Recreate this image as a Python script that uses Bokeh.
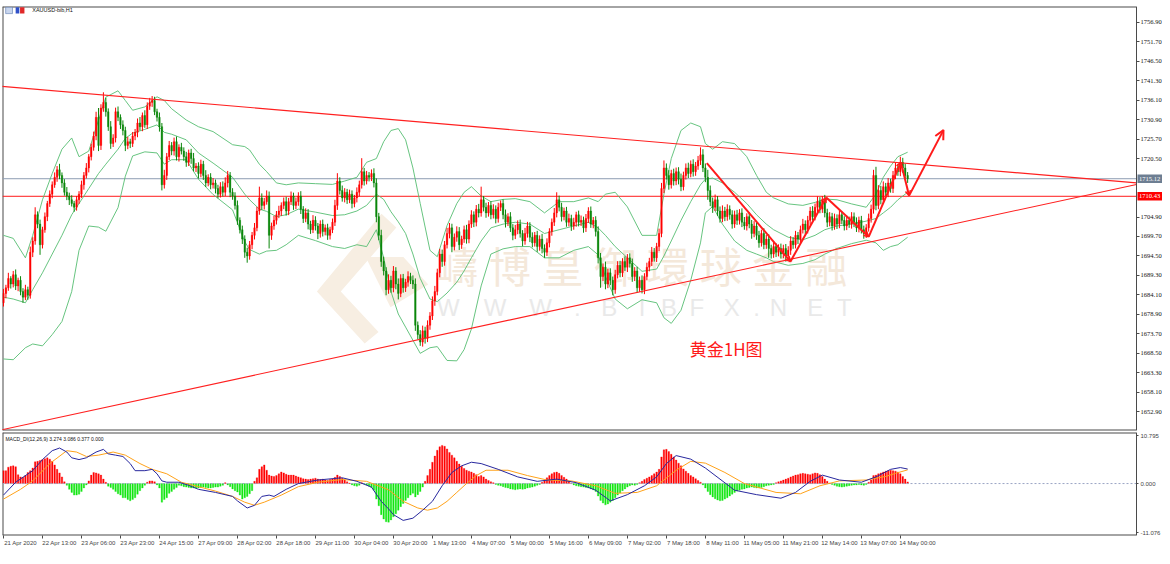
from bokeh.plotting import figure
from bokeh.models import (Range1d, FixedTicker, NumeralTickFormatter, LinearAxis,
                          Arrow, OpenHead, ColumnDataSource)
from bokeh.layouts import column
from bokeh.embed import file_html
from bokeh.resources import INLINE
from bokeh.core.properties import value

# ---------------- data (XAUUSD H1) ----------------
first_open = 1682.0
close = [
 1684.5,1686.0,1688.5,1687.0,1689.5,1686.5,1688.0,1685.0,1683.5,1685.5,
 1684.0,1695.5,1698.5,1705.5,1703.0,1697.5,1701.5,1705.0,1708.5,1711.0,
 1713.5,1715.5,1717.5,1716.0,1714.0,1711.5,1710.5,1709.5,1708.5,1707.5,
 1709.5,1711.0,1713.5,1716.0,1718.0,1721.0,1723.5,1726.5,1731.5,1724.0,
 1734.0,1735.5,1733.0,1729.0,1724.5,1726.0,1733.0,1731.5,1729.5,1728.0,
 1724.0,1725.0,1724.5,1726.5,1727.5,1730.0,1729.0,1732.0,1729.5,1734.5,
 1735.5,1736.0,1733.0,1731.5,1729.0,1713.5,1716.0,1721.0,1724.0,1722.5,
 1725.0,1721.0,1723.5,1722.5,1721.0,1719.5,1722.0,1720.5,1718.0,1718.5,
 1716.5,1719.0,1716.0,1714.0,1715.5,1713.5,1714.0,1712.5,1711.0,1713.0,
 1711.5,1714.0,1716.0,1711.5,1710.5,1708.0,1704.0,1701.5,1699.0,1695.5,
 1694.5,1697.5,1700.0,1702.0,1706.5,1710.0,1708.0,1709.0,1710.5,1700.0,
 1702.5,1704.0,1705.5,1706.5,1708.0,1709.0,1706.5,1709.0,1710.5,1708.0,
 1709.0,1710.5,1707.0,1704.5,1706.0,1703.0,1701.5,1704.0,1702.5,1700.5,
 1703.0,1701.0,1702.0,1700.0,1701.5,1703.5,1708.0,1714.5,1712.0,1710.0,
 1711.5,1709.5,1711.0,1708.5,1710.0,1711.5,1713.5,1717.0,1714.5,1716.0,
 1715.5,1716.5,1714.0,1705.0,1700.0,1693.0,1690.5,1685.5,1688.0,1686.0,
 1690.5,1687.0,1684.5,1688.5,1686.0,1687.5,1689.0,1688.0,1687.0,1676.0,
 1673.5,1671.5,1674.5,1672.5,1676.0,1678.5,1682.5,1685.0,1690.0,1695.0,
 1693.0,1697.5,1700.5,1702.0,1697.0,1699.5,1701.0,1697.5,1699.0,1701.5,
 1699.0,1703.0,1705.5,1703.5,1707.0,1706.0,1709.5,1707.5,1706.0,1708.0,
 1705.5,1707.0,1704.5,1707.5,1708.5,1705.5,1703.5,1705.0,1702.0,1700.0,
 1701.5,1703.0,1700.5,1698.5,1700.5,1702.5,1699.5,1698.0,1700.0,1697.0,
 1699.0,1696.5,1695.5,1698.0,1701.0,1703.5,1706.0,1709.5,1707.5,1705.0,
 1706.5,1703.5,1704.5,1702.5,1703.5,1705.5,1703.5,1704.0,1702.0,1704.5,
 1706.5,1703.0,1704.0,1701.0,1694.0,1689.0,1691.5,1687.0,1690.0,1688.0,
 1685.5,1689.5,1692.0,1690.0,1693.0,1691.5,1694.0,1692.5,1689.0,1690.5,
 1686.0,1688.0,1685.5,1689.0,1691.5,1693.0,1695.5,1694.0,1697.0,1700.5,
 1712.5,1718.0,1716.0,1713.5,1716.5,1714.5,1717.0,1715.0,1713.0,1716.0,
 1718.0,1716.5,1719.0,1717.0,1718.5,1720.0,1721.5,1718.0,1715.5,1712.0,
 1709.0,1707.5,1709.5,1706.5,1704.5,1706.5,1705.0,1707.0,1705.5,1703.0,
 1705.5,1704.0,1706.0,1703.5,1702.5,1705.0,1703.0,1700.5,1702.5,1700.0,
 1698.0,1700.5,1697.5,1699.0,1696.5,1695.0,1697.0,1695.5,1696.5,1695.0,
 1696.5,1694.5,1696.0,1698.5,1697.5,1700.0,1699.0,1701.5,1703.0,1701.5,
 1704.0,1706.5,1705.0,1707.5,1709.0,1707.0,1709.5,1706.0,1703.5,1705.0,
 1702.5,1704.5,1703.0,1705.5,1704.0,1702.5,1704.0,1703.0,1705.0,1703.5,
 1702.0,1704.0,1701.5,1700.5,1702.0,1704.5,1707.0,1716.0,1708.0,1712.0,
 1709.5,1713.0,1711.5,1714.0,1712.5,1716.0,1718.0,1717.0,1719.5,1718.0,
 1716.0,1715.1]
wick_up = [
 1.2,0.8,1.5,0.6,1.0,1.4,0.7,1.1,0.9,1.3, 0.8,1.5,1.0,2.0,0.9,1.2,0.8,1.1,0.7,1.0,
 0.9,1.3,1.0,1.6,0.8,1.0,1.4,0.9,1.2,0.7, 1.0,0.8,1.1,0.9,1.3,0.7,1.0,1.2,1.5,2.5,
 1.0,2.7,1.2,0.9,1.5,1.0,1.1,1.4,0.8,1.2, 1.0,1.3,0.8,1.1,0.9,1.2,1.6,0.8,1.4,1.0,
 1.2,1.2,1.0,0.8,1.3,1.0,1.5,1.0,1.2,0.9, 1.1,1.4,0.8,1.2,1.0,1.3,0.9,1.1,1.5,0.8,
 1.0,1.2,0.9,1.4,0.8,1.1,1.3,0.9,1.0,1.2, 1.4,1.5,1.2,0.9,1.1,1.0,1.3,0.8,1.1,1.0,
 1.2,1.0,0.9,1.3,1.1,3.0,1.2,1.0,1.5,1.2, 0.9,1.2,1.0,1.4,0.8,1.1,1.3,1.0,1.2,0.9,
 1.1,1.0,1.3,0.8,1.2,1.0,0.9,1.4,1.1,0.8, 1.0,1.2,0.9,1.1,0.8,1.0,1.5,2.1,1.0,1.3,
 1.1,0.9,1.2,1.0,0.8,1.3,1.1,3.6,1.0,1.2, 0.9,1.1,1.4,1.2,1.0,1.5,1.3,1.0,1.6,1.2,
 1.3,1.0,1.5,1.1,1.2,0.9,1.4,1.0,1.3,1.5, 1.0,1.2,1.4,1.1,1.3,1.0,1.2,1.5,1.1,1.4,
 1.2,1.0,1.5,1.3,1.1,1.0,1.4,1.2,0.9,1.1, 1.3,1.0,1.2,0.9,1.1,1.4,3.5,1.0,1.2,0.9,
 1.1,1.3,1.0,1.2,0.8,1.1,1.4,0.9,1.2,1.0, 1.3,1.0,1.2,0.9,1.5,1.1,1.0,1.3,0.9,1.2,
 1.0,1.4,1.1,1.2,0.9,1.0,1.3,2.0,1.1,1.2, 0.9,1.1,1.3,1.0,1.2,0.8,1.1,1.3,1.0,1.2,
 1.0,1.2,0.9,1.1,1.4,1.3,1.0,1.5,1.1,1.2, 1.0,1.3,1.1,1.2,0.9,1.4,1.0,1.2,1.3,1.0,
 1.1,1.0,1.3,0.9,1.2,1.0,1.4,1.1,1.0,1.3, 1.5,2.0,1.2,1.4,1.0,1.3,1.1,1.2,1.5,1.0,
 1.2,1.4,1.0,1.3,1.1,1.2,2.0,1.5,1.2,2.0, 1.3,1.1,1.4,1.0,1.2,1.5,1.1,1.3,1.0,1.2,
 1.1,1.3,1.0,1.2,1.4,0.9,1.2,1.1,1.3,1.0, 1.2,1.0,1.4,1.1,1.3,1.0,1.2,0.9,1.1,1.3,
 1.0,1.2,1.1,1.3,1.0,1.2,0.9,1.1,1.4,1.0, 1.2,1.1,1.3,1.0,1.4,1.2,1.0,1.3,1.1,1.2,
 1.0,1.3,1.1,1.2,0.9,1.1,1.3,1.0,1.2,1.1, 1.3,1.0,1.2,1.1,1.0,1.3,1.2,1.5,2.3,1.4,
 1.2,1.4,1.0,1.3,1.1,1.2,1.4,1.0,1.5,1.2, 1.1,0.9]
wick_dn = [
 1.0,1.3,0.8,1.2,0.9,1.1,1.4,1.0,1.5,0.8, 1.2,0.9,1.3,1.0,1.1,2.7,1.0,0.8,1.2,0.9,
 1.1,0.8,1.2,1.0,1.3,0.9,1.1,1.4,0.8,1.2, 0.9,1.1,1.0,1.3,0.8,1.2,1.0,0.9,1.1,1.5,
 1.2,1.0,1.3,1.1,1.4,0.9,1.2,1.0,1.1,1.3, 1.5,1.0,1.2,0.9,1.1,1.3,1.0,1.2,0.8,1.1,
 1.0,1.2,0.9,1.1,1.3,1.5,1.0,1.2,0.9,1.1, 1.2,1.0,1.3,0.9,1.1,1.2,1.0,1.4,0.9,1.1,
 1.3,1.0,1.2,1.1,0.9,1.2,1.0,1.3,1.1,0.9, 1.1,1.0,1.2,1.3,1.0,1.1,1.2,1.0,1.3,1.5,
 1.8,1.0,1.2,1.1,0.9,1.0,1.2,1.1,0.8,3.5, 1.2,1.0,1.1,0.9,1.3,1.0,1.2,1.1,0.9,1.2,
 1.0,1.1,1.3,1.2,1.0,1.4,1.1,0.9,1.2,1.5, 1.1,1.3,1.0,1.2,1.1,0.9,1.0,1.2,1.1,1.0,
 1.2,1.1,0.9,1.3,1.0,1.2,1.1,1.0,1.2,0.9, 1.1,1.0,1.2,1.5,1.3,1.4,1.2,1.5,1.1,1.3,
 1.2,1.4,1.6,1.0,1.3,1.1,1.2,1.0,1.3,1.5, 1.3,1.0,1.2,1.4,1.0,1.2,1.1,1.3,1.0,1.2,
 1.4,1.1,1.0,1.3,1.5,1.0,1.2,1.4,1.1,1.0, 1.2,1.1,1.0,1.3,1.1,1.2,1.0,1.1,1.3,1.0,
 1.2,1.0,1.3,1.1,1.0,1.2,1.4,1.0,1.1,1.3, 1.0,1.2,1.1,1.4,1.0,1.1,1.3,1.2,1.0,1.4,
 1.1,1.3,1.5,1.0,1.2,1.1,1.0,1.2,1.1,1.3, 1.0,1.2,1.1,1.3,1.0,1.2,1.1,1.0,1.3,1.1,
 1.2,1.0,1.1,1.3,1.5,3.0,1.2,1.4,1.1,1.3, 1.5,1.1,1.0,1.2,1.1,1.0,1.3,1.1,1.4,1.2,
 1.3,1.1,1.0,1.2,1.0,1.1,1.2,1.0,1.1,1.2, 1.0,1.2,1.1,1.3,1.0,1.2,1.1,1.4,1.2,1.0,
 1.1,1.2,1.0,1.3,1.1,1.0,1.2,1.1,1.3,2.5, 1.2,1.5,1.0,1.3,1.1,1.0,1.2,1.1,1.3,1.2,
 1.0,1.2,1.1,1.3,1.0,1.2,1.1,1.4,1.0,1.2, 1.3,1.0,1.2,1.1,2.5,1.2,1.0,1.3,1.1,1.2,
 1.1,1.5,1.0,1.2,1.1,1.0,1.3,1.1,1.0,1.2, 1.0,1.2,1.1,1.0,1.3,1.1,1.0,1.2,1.3,1.1,
 1.2,1.0,1.3,1.1,1.0,1.2,1.1,1.0,1.2,1.3, 1.1,1.2,1.0,1.4,1.2,1.0,1.1,1.2,1.3,1.0,
 1.2,1.1,1.0,1.3,1.1,1.2,1.0,1.1,1.2,1.3, 1.0,1.1]

band_bar = [0,4,9,12,16,20,24,28,31,35, 39,42,47,50,53,58,63,66,69,75,
            80,86,94,99,101,105,108,112,116,121, 128,135,140,145,149,153,156,159,162,165,
            168,171,175,178,182,186,189,192,196,200, 205,210,216,222,228,234,240,244,247,251,
            256,262,268,271,274,278,282,286,288,291, 295,300,305,309,313,316,322,328,333,337,
            342,348,354,358,361,364,367,371]
band_upper = [1700.0,1699.2,1694.0,1700.0,1709.5,1716.5,1723.0,1726.0,1721.0,1722.5,
              1730.8,1736.9,1738.6,1736.0,1733.4,1734.3,1737.0,1736.0,1733.8,1730.8,
              1729.0,1727.7,1724.2,1723.7,1722.8,1719.0,1717.0,1714.0,1713.5,1714.0,
              1713.8,1713.6,1714.5,1715.5,1719.5,1720.5,1725.0,1728.0,1728.5,1725.5,
              1718.0,1708.5,1696.0,1694.3,1702.6,1708.5,1711.5,1713.0,1710.5,1709.0,
              1709.6,1709.8,1709.0,1706.0,1709.0,1709.0,1710.0,1709.0,1711.0,1711.5,
              1707.6,1700.0,1700.0,1711.0,1720.5,1728.0,1730.0,1729.0,1724.5,1723.0,
              1725.0,1724.5,1721.0,1716.0,1711.5,1710.0,1708.4,1708.0,1708.8,1709.7,
              1709.5,1708.4,1707.5,1711.0,1715.5,1718.5,1721.0,1722.2]
band_mid = [1683.5,1683.0,1682.0,1685.5,1690.0,1695.0,1700.0,1705.5,1708.5,1712.5,
            1716.5,1719.0,1723.0,1725.9,1727.3,1728.3,1729.5,1727.5,1727.0,1725.5,
            1722.0,1719.3,1715.5,1711.0,1709.5,1707.0,1706.4,1705.0,1705.5,1707.0,
            1706.2,1705.3,1705.5,1706.5,1708.0,1711.0,1709.6,1706.3,1703.6,1700.5,
            1695.0,1688.5,1683.0,1682.3,1684.6,1687.5,1690.5,1694.0,1698.5,1702.0,
            1703.0,1703.5,1703.0,1700.5,1701.5,1702.5,1703.5,1702.0,1700.0,1697.0,
            1694.0,1690.4,1691.0,1694.5,1698.5,1704.0,1709.0,1713.5,1715.0,1715.3,
            1714.0,1711.5,1708.5,1705.5,1703.0,1701.5,1699.5,1698.8,1700.0,1701.5,
            1702.5,1703.0,1703.8,1704.5,1706.0,1707.5,1709.5,1711.5]
band_lower = [1667.0,1666.8,1670.0,1671.0,1670.5,1673.5,1677.0,1685.0,1696.0,1702.5,
              1702.2,1701.1,1707.4,1715.8,1721.2,1722.3,1722.0,1719.0,1720.2,1720.2,
              1715.0,1710.9,1706.8,1698.3,1696.2,1695.0,1695.8,1696.0,1697.5,1700.0,
              1698.6,1697.0,1696.5,1697.5,1697.0,1701.5,1694.0,1685.0,1679.0,1675.5,
              1672.0,1668.5,1670.0,1670.3,1666.6,1666.5,1669.5,1675.0,1686.5,1695.0,
              1696.4,1697.0,1697.0,1694.0,1694.0,1696.0,1697.0,1694.8,1689.0,1683.0,
              1680.4,1682.8,1682.0,1678.0,1676.5,1680.0,1688.0,1698.0,1706.0,1707.7,
              1703.0,1698.5,1696.0,1695.0,1694.0,1693.0,1692.0,1692.5,1693.5,1695.0,
              1696.5,1697.8,1698.7,1698.0,1696.0,1697.0,1697.5,1699.5]

# MACD_DI(12,26,9): histogram per bar, MACD and signal lines sampled
macd_hist = [
 2.9,2.9,3.7,3.9,4.0,3.8,2.0,1.5,1.4,1.8, 2.5,2.9,3.5,4.9,5.0,5.2,5.4,5.6,5.8,5.5,
 5.0,4.2,3.2,2.4,1.5,0.4,-0.4,-1.3,-2.0,-2.6, -2.6,-2.4,-1.8,-1.0,-0.3,0.6,1.9,2.5,2.4,2.2,
 1.9,1.0,0.3,-0.6,-0.9,-1.3,-1.8,-2.3,-2.6,-3.2, -3.2,-3.6,-3.9,-3.6,-3.2,-2.4,-1.6,-1.0,-0.4,0.3,
 0.6,0.6,0.4,-0.3,-1.0,-4.2,-3.6,-3.2,-2.2,-1.8, -1.3,-0.9,-0.4,-0.5,-0.7,-0.8,-0.9,-1.0,-1.0,-1.0,
 -1.0,-0.9,-0.8,-0.9,-1.0,-1.0,-0.9,-0.8,-0.8,-0.6, -0.4,0.2,-0.3,-0.7,-1.2,-1.6,-1.9,-2.6,-3.5,-3.2,
 -2.9,-2.3,-1.6,0.5,1.3,3.2,3.8,4.2,3.0,1.9, 1.7,1.6,1.8,2.2,2.6,2.4,2.1,1.9,1.9,1.9,
 1.7,1.5,1.3,1.1,1.0,0.9,1.0,1.1,1.2,1.0, 0.9,1.0,0.8,0.7,0.9,1.0,1.4,1.9,1.6,1.2,
 0.8,0.4,0.1,-0.3,-0.5,-0.6,-0.4,0.2,-0.1,-0.3, -0.6,-0.9,-1.5,-3.5,-5.0,-7.0,-8.0,-8.6,-8.7,-8.2,
 -7.5,-6.8,-6.0,-5.2,-4.5,-3.8,-3.2,-2.6,-2.2,-3.0, -2.5,-1.8,-0.8,0.5,1.8,3.2,4.8,6.2,7.5,8.3,
 8.6,8.4,7.8,7.0,6.4,5.8,5.0,4.4,3.9,3.4, 3.0,2.8,2.6,2.3,2.0,1.6,1.8,1.5,1.0,0.7,
 0.4,0.2,-0.2,-0.4,-0.5,-0.7,-0.9,-1.0,-1.2,-1.3, -1.4,-1.3,-1.2,-1.3,-1.2,-1.0,-0.9,-0.8,-0.6,-0.4,
 -0.2,0.3,0.8,1.3,1.8,2.2,2.5,2.6,2.3,1.8, 1.4,1.0,0.5,0.1,-0.3,-0.5,-0.6,-0.7,-0.8,-0.9,
 -1.0,-1.2,-1.4,-1.8,-2.8,-3.8,-4.4,-4.8,-4.6,-4.2, -3.8,-3.2,-2.6,-2.1,-1.6,-1.2,-0.8,-0.5,-0.3,-0.4,
 -0.2,0.2,0.5,0.9,1.2,1.5,1.8,2.2,2.6,3.2, 6.0,7.6,7.7,7.2,6.6,6.0,5.3,4.6,4.0,3.3,
 2.8,2.3,1.8,1.5,1.1,0.7,0.3,-0.3,-1.0,-1.8, -2.5,-3.0,-3.4,-3.7,-3.9,-3.8,-3.5,-3.2,-2.8,-2.4,
 -2.0,-1.7,-1.5,-1.3,-1.2,-1.0,-0.9,-0.8,-0.9,-1.0, -1.0,-0.9,-0.7,-0.5,-0.4,-0.3,-0.2,0.2,0.4,0.6,
 0.8,1.0,1.2,1.5,1.7,1.9,2.0,2.2,2.3,2.2, 2.1,2.0,2.2,2.4,2.3,2.0,1.6,1.0,0.5,0.1,
 -0.2,-0.4,-0.6,-0.7,-0.8,-0.7,-0.6,-0.5,-0.4,-0.3, -0.3,-0.2,-0.3,-0.4,-0.2,0.3,0.8,1.8,1.9,2.2,
 2.4,2.6,2.8,2.9,3.0,2.9,2.8,2.6,2.2,1.6, 1.0,0.377]
macd_bar = [0,5,12,16,20,23,26,28,31,34, 38,41,43,46,49,52,54,58,61,63,
            65,67,72,76,80,87,94,96,100,103, 106,109,111,116,121,129,139,145,151,155,
            158,160,164,168,172,176,180,184,188,192, 196,203,211,219,227,235,243,249,256,263,
            268,272,276,282,288,294,300,309,319,325, 331,336,343,352,358,364,368,371]
macd_val = [-2.6,0.3,2.9,5.4,7.4,8.0,7.1,5.8,5.4,5.8, 7.1,7.7,6.7,6.4,6.1,4.5,2.9,2.9,3.2,2.2,
            0.6,0.3,0.3,-0.4,-1.3,-2.0,-2.9,-3.9,-5.5,-4.9, -2.9,-2.6,-2.9,-1.3,0.0,0.8,1.3,0.5,-0.8,-4.0,
            -5.7,-7.0,-8.3,-7.8,-6.0,-4.0,-0.5,2.5,4.0,4.8, 4.5,3.2,1.5,0.5,1.0,0.2,-1.5,-3.9,-2.5,-0.5,
            1.5,4.5,6.3,5.5,3.5,1.0,-1.5,-2.5,-3.3,-2.0, 0.5,1.9,0.8,0.3,1.5,3.2,3.6,3.274]
sig_bar = [0,7,12,19,26,30,34,39,45,50, 56,61,67,73,80,87,94,99,103,107,
           114,121,129,139,149,158,164,170,174,178, 182,186,190,194,198,207,215,223,233,243,
           251,260,268,276,282,288,296,304,317,327, 335,343,354,362,366,371]
sig_val = [-3.5,-1.3,0.6,4.5,7.4,7.1,6.1,6.4,7.1,6.4, 4.5,3.2,2.2,0.3,-0.7,-1.7,-2.9,-4.2,-4.9,-4.2,
           -2.6,-0.7,0.3,0.9,0.5,-1.4,-4.0,-5.5,-6.0,-5.5, -4.0,-2.0,0.0,1.8,3.0,3.0,1.8,0.8,0.6,-0.5,
           -2.2,-2.0,-0.5,3.0,5.0,4.6,2.5,0.0,-2.0,-2.3, -0.5,0.6,0.8,1.6,2.3,3.086]

# time axis labels (every 16 bars)
time_tick_bars = [0,16,32,48,64,80,96,112,128,144,160,176,192,208,224,240,256,272,288,304,320,336,352,368]
time_labels = ["21 Apr 2020","22 Apr 13:00","23 Apr 06:00","23 Apr 23:00","24 Apr 15:00",
               "27 Apr 09:00","28 Apr 02:00","28 Apr 18:00","29 Apr 11:00","30 Apr 04:00",
               "30 Apr 20:00","1 May 13:00","4 May 07:00","5 May 00:00","5 May 16:00",
               "6 May 09:00","7 May 02:00","7 May 18:00","8 May 11:00","11 May 05:00",
               "11 May 21:00","12 May 14:00","13 May 07:00","14 May 00:00"]
price_ticks = [1652.90,1658.10,1663.30,1668.50,1673.70,1678.90,1684.10,1689.30,1694.50,
               1699.70,1704.90,1720.50,1725.70,1730.90,1736.10,1741.30,1746.50,1751.70,1756.90]
macd_ticks = [-11.076, 0.0, 10.795]

# chart objects (trend lines, levels, drawn arrows)
trend_up_bar = [-1.2, 464.9]; trend_up_price = [1739.8, 1714.0]
trend_lo_bar = [-1.2, 464.9]; trend_lo_price = [1648.0, 1713.6]
hline_price = 1710.43
bid_price = 1715.12
zz_bar = [288.6, 322.9, 337.6, 355.0, 368.2, 371.6]
zz_price = [1719.3, 1693.0, 1710.1, 1699.6, 1719.5, 1710.6]
big_arrow_bar = [371.6, 385.7]; big_arrow_price = [1710.6, 1728.1]

wm_chars = ["嶹", "博", "皇", "御", "環", "球", "金", "融"]
wm_char_bar = [186.1, 207.8, 229.4, 251.0, 272.7, 294.3, 315.9, 337.6]
wm_letters = ["W", "W", "W", ".", "B", "I", "B", "F", "X", ".", "N", "E", "T"]
wm_letter_bar = [182.5, 201.7, 220.4, 235.5, 248.6, 262.0, 273.1, 284.5, 298.8, 309.0, 318.0, 333.1, 345.0]
logo_a_bar = [128.6, 155.1, 161.2, 138.4, 153.9, 148.2]
logo_a_price = [1685.0, 1705.8, 1702.1, 1685.0, 1674.2, 1671.1]
logo_b_bar = [148.6, 164.1, 174.3, 158.8]
logo_b_price = [1694.2, 1694.2, 1686.9, 1680.8]

# ---------------- build ----------------
n = len(close)
bars = list(range(n))
opens = [first_open] + close[:-1]
body_top = [max(o, c) for o, c in zip(opens, close)]
body_bot = [min(o, c) for o, c in zip(opens, close)]
highs = [t + w for t, w in zip(body_top, wick_up)]
lows = [b - w for b, w in zip(body_bot, wick_dn)]
UP, DN = "#ff0000", "#0b870b"
colors = [UP if c >= o else DN for o, c in zip(opens, close)]
src = ColumnDataSource(dict(x=bars, top=body_top, bot=body_bot, hi=highs, lo=lows, color=colors))

W = 1162                 # canvas width
FWP = W - 2              # frame width in px
AXPX = 1134              # price-axis line, px from frame left
X0, X1 = -0.4, 464.9     # left edge, price-axis line (bars)
px_bar = (X1 - X0) / AXPX
X1E = X0 + FWP * px_bar
PY0, PY1 = 1647.9, 1761.1
MY0, MY1 = -11.7, 11.5
PH = 424
px_price = (PY1 - PY0) / PH
xr = Range1d(X0, X1E)
AX = "#4a4a4a"

p = figure(width=W, height=PH + 7, x_range=xr, y_range=Range1d(PY0, PY1),
           x_axis_location=None, y_axis_location=None, output_backend="svg",
           toolbar_location=None, min_border_left=2, min_border_right=0,
           min_border_top=6, min_border_bottom=1)
p.grid.visible = False
p.outline_line_color = None

pax = LinearAxis(fixed_location=X1, ticker=FixedTicker(ticks=price_ticks),
                 formatter=NumeralTickFormatter(format="0.00"))
pax.major_label_text_font = "Liberation Serif"
pax.major_label_text_font_size = "6.5px"
pax.major_label_text_color = "#111111"
pax.major_tick_out = 3
pax.major_tick_in = 0
pax.minor_tick_line_color = None
pax.axis_line_color = AX
pax.major_tick_line_color = AX
pax.major_label_standoff = 1
p.add_layout(pax, "right")

# frame border (left, top, bottom)
p.segment(x0=[X0, X0, X0], y0=[PY0, PY1, PY0], x1=[X1, X1, X0], y1=[PY0, PY1, PY1],
          line_color=AX, line_width=2)

# watermark
p.patch(logo_a_bar, logo_a_price, fill_color="#f7eee2", line_color=None)
p.patch(logo_b_bar, logo_b_price, fill_color="#f7eee2", line_color=None)
p.text(x=wm_char_bar, y=[1692.1] * len(wm_chars), text=wm_chars, text_align="center",
       text_baseline="middle", text_font=value("Noto Sans CJK TC"), text_font_size="42px",
       text_color="#f4e8da")
p.text(x=wm_letter_bar, y=[1680.8] * len(wm_letters), text=wm_letters, text_align="center",
       text_baseline="middle", text_font=value("Liberation Sans"), text_font_size="24px",
       text_color="#e9e9e9")

# levels (stop at the price axis)
p.line([X0, X1], [bid_price, bid_price], line_color="#8d9db2", line_width=1)
p.line([X0, X1], [hline_price, hline_price], line_color="#ff1a1a", line_width=1)

# bands
for arr in (band_upper, band_mid, band_lower):
    p.line(band_bar, arr, line_color="#56bd72", line_width=0.9)

# candles
p.segment(x0="x", y0="lo", x1="x", y1="hi", line_color="color", line_width=1, source=src)
p.vbar(x="x", width=0.62, top="top", bottom="bot", fill_color="color", line_color="color",
       line_width=0.4, source=src)

# trend lines
p.line(trend_up_bar, trend_up_price, line_color="#ff2020", line_width=1.1)
p.line(trend_lo_bar, trend_lo_price, line_color="#ff2020", line_width=1.1)

# drawn arrows
for i in range(len(zz_bar) - 1):
    p.add_layout(Arrow(x_start=zz_bar[i], y_start=zz_price[i], x_end=zz_bar[i + 1], y_end=zz_price[i + 1],
                       line_color="#ff1a1a", line_width=2,
                       end=OpenHead(size=5, line_color="#ff1a1a", line_width=1.5)))
p.add_layout(Arrow(x_start=big_arrow_bar[0], y_start=big_arrow_price[0], x_end=big_arrow_bar[1],
                   y_end=big_arrow_price[1], line_color="#ff1a1a", line_width=2,
                   end=OpenHead(size=9, line_color="#ff1a1a", line_width=2)))

# caption
p.text(x=[281.6], y=[1669.8], text=["黄金1H图"], text_align="left", text_baseline="middle",
       text_font=value("Noto Sans CJK SC"), text_font_size="17px", text_color="#ff1a1a")

# header (symbol)
p.quad(left=[0.9], right=[3.7], bottom=[1759.2], top=[1760.9], fill_color="#c9d6ee",
       line_color="#5a78b0", line_width=0.6)
p.quad(left=[5.0, 6.8], right=[6.5, 8.6], bottom=[1759.2, 1759.2], top=[1760.9, 1760.9],
       fill_color=["#3050c8", "#e02828"], line_color=None)
p.text(x=[11.8], y=[1760.1], text=["XAUUSD-bib,H1"], text_align="left", text_baseline="middle",
       text_font=value("Liberation Sans"), text_font_size="5.5px", text_color="#111111")

# value boxes on the price axis
box_l = X1 + 1 * px_bar
box_r = X1 + 26 * px_bar
box_h = 4.2 * px_price
p.quad(left=[box_l, box_l], right=[box_r, box_r],
       bottom=[bid_price - box_h, hline_price - box_h], top=[bid_price + box_h, hline_price + box_h],
       fill_color=["#6d7e92", "#ff0000"], line_color=None)
p.text(x=[X1 + 2.5 * px_bar] * 2, y=[bid_price, hline_price],
       text=["%.2f" % bid_price, "%.2f" % hline_price], text_align="left", text_baseline="middle",
       text_font=value("Liberation Serif"), text_font_size="6.5px", text_color="white")

# ---------------- MACD panel ----------------
m = figure(width=W, height=117, x_range=xr, y_range=Range1d(MY0, MY1),
           x_axis_location="below", y_axis_location=None, output_backend="svg",
           toolbar_location=None, min_border_left=2, min_border_right=0,
           min_border_top=1, min_border_bottom=0)
m.grid.visible = False
m.outline_line_color = None
m.segment(x0=[X0, X0, X0], y0=[MY0, MY1, MY0], x1=[X1, X1, X0], y1=[MY0, MY1, MY1],
          line_color=AX, line_width=2)
hcol = ["#ff0000" if v >= 0 else "#14e614" for v in macd_hist]
m.vbar(x=bars, width=0.62, top=macd_hist, bottom=0, fill_color=hcol, line_color=hcol, line_width=0.3)
m.line([X0, X1], [0, 0], line_color="#9aa4c4", line_width=1, line_dash="2 2")
m.line(sig_bar, sig_val, line_color="#ffa21a", line_width=1)
m.line(macd_bar, macd_val, line_color="#28289e", line_width=1)
m.text(x=[0.8], y=[10.0], text=["MACD_DI(12,26,9) 3.274 3.086 0.377 0.000"], text_align="left",
       text_baseline="middle", text_font=value("Liberation Sans"), text_font_size="5px",
       text_color="#111111")

may = LinearAxis(fixed_location=X1, ticker=FixedTicker(ticks=macd_ticks),
                 formatter=NumeralTickFormatter(format="0.000"))
may.major_label_text_font = "Liberation Sans"
may.major_label_text_font_size = "6px"
may.major_tick_out = 2
may.major_tick_in = 0
may.minor_tick_line_color = None
may.axis_line_color = AX
may.major_tick_line_color = AX
may.major_label_standoff = 2
m.add_layout(may, "right")

mx = m.xaxis[0]
label_pos = [b + 7 for b in time_tick_bars]
mx.ticker = FixedTicker(ticks=label_pos, minor_ticks=time_tick_bars)
mx.major_label_overrides = {lp: t for lp, t in zip(label_pos, time_labels)}
mx.major_tick_out = 0
mx.major_tick_in = 0
mx.minor_tick_out = 3
mx.minor_tick_in = 0
mx.minor_tick_line_color = AX
mx.axis_line_color = None
mx.major_label_text_font = "Liberation Sans"
mx.major_label_text_font_size = "6px"
mx.major_label_standoff = 1

layout = column(p, m, spacing=0)
open("out.html", "w").write(file_html(layout, INLINE))
